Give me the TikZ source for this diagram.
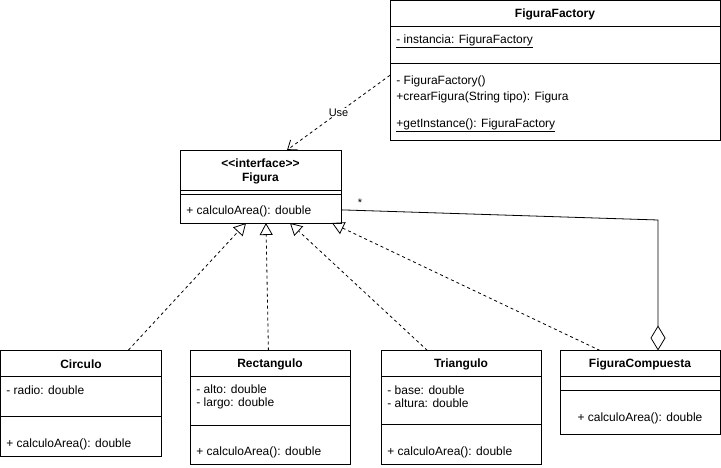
\documentclass[tikz,border=0pt]{standalone}
\usepackage{fontspec}
\setmainfont{Liberation Sans}
\usetikzlibrary{arrows.meta, positioning, calc}

\begin{document}
\begin{tikzpicture}[x=1pt, y=-1pt, line width=0.8pt,
  font=\fontsize{12}{14}\selectfont,
  classbox/.style={draw, rectangle, anchor=north west, inner sep=0pt, outer sep=0pt},
  classname/.style={font=\fontsize{12}{14}\selectfont\bfseries, align=center},
  member/.style={anchor=west, inner sep=0pt, align=left, font=\fontsize{12}{13}\selectfont},
  realize/.style={dash pattern=on 3pt off 3pt, -{Triangle[open, length=12pt, width=13pt]}},
  usedep/.style={dash pattern=on 3pt off 3pt, -{Straight Barb[length=8pt, width=12pt]}},
  aggregate/.style={-{Diamond[open, length=25pt, width=15pt]}}]
\useasboundingbox (0,0) rectangle (721,468);

% FiguraFactory
\node[classbox, minimum width=330pt, minimum height=139.5pt] (factory) at (390,0.5) {};
\draw ($(factory.north west)+(0,26)$) -- ($(factory.north east)+(0,26)$);
\draw ($(factory.north west)+(0,63)$) -- ($(factory.north east)+(0,63)$);
\node[classname] (factoryname) at (555,14) {FiguraFactory};
\node[member] (factoryattr) at (396,41) {\underline{- instancia: FiguraFactory}};
\node[member] (factoryctor) at (396,81) {- FiguraFactory()};
\node[member] (factorycrear) at (396,97) {+crearFigura(String tipo): Figura};
\node[member] (factoryget) at (396,125) {\underline{+getInstance(): FiguraFactory}};

% Figura (interface)
\node[classbox, minimum width=161pt, minimum height=73pt] (figura) at (180,150) {};
\draw ($(figura.north west)+(0,40.5)$) -- ($(figura.north east)+(0,40.5)$);
\draw ($(figura.north west)+(0,44)$) -- ($(figura.north east)+(0,44)$);
\node[classname] (figuraname) at (260.5,171) {<{}<interface>{}>\\Figura};
\node[member] (figuramethod) at (186,211) {+ calculoArea(): double};

% Circulo
\node[classbox, minimum width=161pt, minimum height=106.5pt] (circulo) at (0.5,350) {};
\draw ($(circulo.north west)+(0,26.7)$) -- ($(circulo.north east)+(0,26.7)$);
\draw ($(circulo.north west)+(0,66.7)$) -- ($(circulo.north east)+(0,66.7)$);
\node[classname] (circuloname) at (81,364) {Circulo};
\node[member] (circuloattr) at (6,390) {- radio: double};
\node[member] (circulomethod) at (6,444) {+ calculoArea(): double};

% Rectangulo
\node[classbox, minimum width=160pt, minimum height=114pt] (rectangulo) at (190,350.5) {};
\draw ($(rectangulo.north west)+(0,26.2)$) -- ($(rectangulo.north east)+(0,26.2)$);
\draw ($(rectangulo.north west)+(0,74.5)$) -- ($(rectangulo.north east)+(0,74.5)$);
\node[classname] (rectanguloname) at (270,364) {Rectangulo};
\node[member] (rectanguloattr) at (196,396.5) {- alto: double\\- largo: double};
\node[member] (rectangulomethod) at (196,452) {+ calculoArea(): double};

% Triangulo
\node[classbox, minimum width=160pt, minimum height=114pt] (triangulo) at (381,350.5) {};
\draw ($(triangulo.north west)+(0,26.2)$) -- ($(triangulo.north east)+(0,26.2)$);
\draw ($(triangulo.north west)+(0,74)$) -- ($(triangulo.north east)+(0,74)$);
\node[classname] (trianguloname) at (461,364) {Triangulo};
\node[member] (trianguloattr) at (387,396.5) {- base: double\\- altura: double};
\node[member] (triangulomethod) at (387,452) {+ calculoArea(): double};

% FiguraCompuesta
\node[classbox, minimum width=160pt, minimum height=84pt] (compuesta) at (560,350.5) {};
\draw ($(compuesta.north west)+(0,26.2)$) -- ($(compuesta.north east)+(0,26.2)$);
\draw ($(compuesta.north west)+(0,39.5)$) -- ($(compuesta.north east)+(0,39.5)$);
\node[classname] (compuestaname) at (640,364) {FiguraCompuesta};
\node[inner sep=0pt] (compuestamethod) at (640,418) {+ calculoArea(): double};

% Relations
\draw[usedep] ($(factory.north west)!0.536!(factory.south west)$) -- node[fill=white, inner sep=1pt, font=\fontsize{11}{13}\selectfont] (uselabel) {Use} ($(figura.north west)!0.665!(figura.north east)$);

\draw[realize] ($(circulo.north west)!0.795!(circulo.north east)$) -- ($(figura.south west)!0.41!(figura.south east)$);
\draw[realize] ($(rectangulo.north west)!0.49!(rectangulo.north east)$) -- ($(figura.south west)!0.534!(figura.south east)$);
\draw[realize] ($(triangulo.north west)!0.29!(triangulo.north east)$) -- ($(figura.south west)!0.683!(figura.south east)$);
\draw[realize] ($(compuesta.north west)!0.25!(compuesta.north east)$) -- ($(figura.south west)!0.944!(figura.south east)$);

\coordinate (figagg) at ($(figura.north east)!0.82!(figura.south east)$);
\coordinate (aggbend) at (658,220);
\draw[aggregate] (figagg) -- (aggbend) -- ($(compuesta.north west)!0.6125!(compuesta.north east)$);
\node[inner sep=0pt, font=\fontsize{11}{13}\selectfont] (multstar) at ($(figagg)+(19,-7)$) {*};
\end{tikzpicture}
\end{document}
